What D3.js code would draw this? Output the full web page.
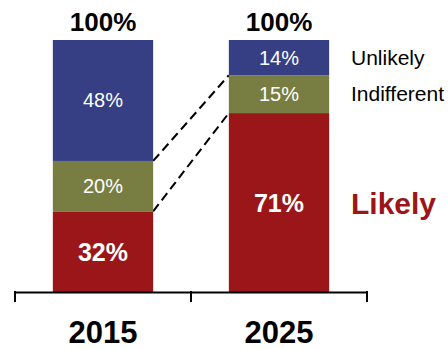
<!DOCTYPE html>
<html><head><meta charset="utf-8">
<script src="https://cdn.jsdelivr.net/npm/d3@7"></script>
<style>body{margin:0;background:#fff}svg{display:block}text{font-family:"Liberation Sans",Arial,sans-serif}</style>
</head><body><svg id="c" width="448" height="349"></svg>
<script>
const years = ["2015", "2025"];
const series = ["Likely", "Indifferent", "Unlikely"];
const likely = [32, 71];
const indifferent = [20, 15];
const unlikely = [48, 14];
const totals = ["100%", "100%"];
const colors = {Likely: "#9b1618", Indifferent: "#787e41", Unlikely: "#363f84"};

const svg = d3.select("#c");
const x = d3.scaleBand().domain(years).range([15, 367]).padding(0);
const xb = d3.scaleBand().domain(years).range([15, 367]).paddingInner(0.43).paddingOuter(0.215);
const y = d3.scaleLinear().domain([0, 100]).range([292, 40]);

const rows = years.map((yr, i) => ({year: yr, Likely: likely[i], Indifferent: indifferent[i], Unlikely: unlikely[i]}));
const stacked = d3.stack().keys(series)(rows);

// dashed connectors
const s0 = stacked[0], s1 = stacked[1];
[[s0[0][1], s0[1][1]], [s1[0][1], s1[1][1]]].forEach(([a, b]) => {
  svg.append("line")
    .attr("x1", xb(years[0]) + xb.bandwidth()).attr("y1", y(a))
    .attr("x2", xb(years[1])).attr("y2", y(b))
    .attr("stroke", "#000").attr("stroke-width", 2).attr("stroke-dasharray", "9,5");
});

stacked.forEach(layer => {
  svg.append("g").selectAll("rect").data(layer).join("rect")
    .attr("x", d => xb(d.data.year)).attr("width", xb.bandwidth())
    .attr("y", d => y(d[1])).attr("height", d => y(d[0]) - y(d[1]))
    .attr("fill", colors[layer.key]);
  svg.append("g").selectAll("text").data(layer).join("text")
    .attr("x", d => xb(d.data.year) + xb.bandwidth() / 2)
    .attr("y", d => (y(d[0]) + y(d[1])) / 2 + (layer.key === "Likely" ? 9 : 7))
    .attr("text-anchor", "middle").attr("fill", "#fff")
    .attr("font-size", layer.key === "Likely" ? 25 : 20)
    .attr("font-weight", layer.key === "Likely" ? "bold" : "normal")
    .text(d => (d[1] - d[0]) + "%");
});

// totals
svg.append("g").selectAll("text").data(years).join("text")
  .attr("x", d => xb(d) + xb.bandwidth() / 2).attr("y", 31)
  .attr("text-anchor", "middle").attr("font-size", 26).attr("font-weight", "bold")
  .text((d, i) => totals[i]);

// axis
const axis = d3.axisBottom(x).tickValues([]).tickSizeOuter(0);
const ag = svg.append("g").attr("transform", "translate(0,292)").call(axis);
ag.select(".domain").attr("stroke", "#000").attr("stroke-width", 2);
const edges = [x(years[0]), x(years[1]), x(years[1]) + x.bandwidth()];
svg.append("g").selectAll("line").data(edges).join("line")
  .attr("x1", d => d).attr("x2", d => d).attr("y1", 291).attr("y2", 302)
  .attr("stroke", "#000").attr("stroke-width", 2);
svg.append("g").selectAll("text").data(years).join("text")
  .attr("x", d => x(d) + x.bandwidth() / 2).attr("y", 343)
  .attr("text-anchor", "middle").attr("font-size", 31).attr("font-weight", "bold")
  .text(d => d);

// legend labels at right of 2025 bar
const lx = 351;
const last = stacked.map(l => l[1]);
svg.append("text").attr("x", lx).attr("y", (y(last[2][0]) + y(last[2][1])) / 2 + 7)
  .attr("font-size", 21).attr("fill", "#000").text("Unlikely");
svg.append("text").attr("x", lx).attr("y", (y(last[1][0]) + y(last[1][1])) / 2 + 7)
  .attr("font-size", 21).attr("fill", "#000").text("Indifferent");
svg.append("text").attr("x", lx).attr("y", 214)
  .attr("font-size", 30).attr("font-weight", "bold").attr("fill", colors.Likely).text("Likely");
</script></body></html>
